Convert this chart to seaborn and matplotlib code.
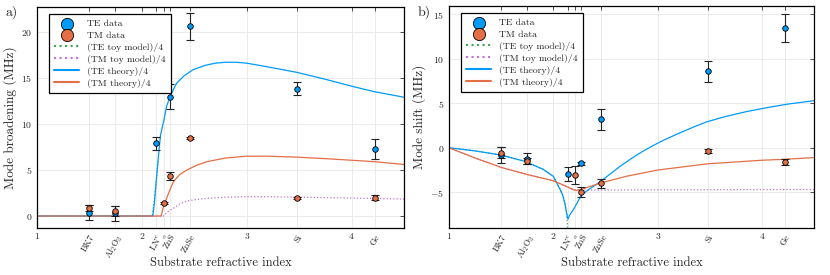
import numpy as np
import pandas as pd
import matplotlib
matplotlib.use('Agg')
import matplotlib.pyplot as plt
import seaborn as sns

sns.set_style('white')
plt.rcParams['font.family'] = ['cmr10', 'DejaVu Serif']
plt.rcParams['mathtext.fontset'] = 'cm'
plt.rcParams['axes.formatter.use_mathtext'] = True

blue, orange, green, purple = '#009AFA', '#E36F47', '#3EA44E', '#C271D2'

# substrate indices
n_te = [1.50, 1.746, 2.138, 2.27, 2.46, 3.48, 4.22]
n_tm = [1.50, 1.746, 2.211, 2.27, 2.46, 3.48, 4.22]
tick_pos = [1, 1.50, 1.746, 2, 2.138, 2.211, 2.27, 2.46, 3, 3.48, 4, 4.22]
tick_lbl = ['1', 'BK7', 'Al$_2$O$_3$', '2', 'LN$^e$', '$^o$', 'ZnS', 'ZnSe',
            '3', 'Si', '4', 'Ge']

# (a) broadening data
br_te = [0.36, 0.3, 7.9, 12.97, 20.6, 13.84, 7.3]
br_te_err = [0.8, 0.8, 0.7, 1.35, 1.5, 0.7, 1.1]
br_tm = [0.87, 0.55, 1.4, 4.38, 8.48, 1.92, 2.0]
br_tm_err = [0.3, 0.5, 0.1, 0.45, 0.1, 0.1, 0.3]

# (b) shift data
sh_te = [-0.82, -1.23, -2.95, -1.75, 3.17, 8.59, 13.44]
sh_te_err = [0.9, 0.6, 0.77, 0.15, 1.2, 1.17, 1.6]
sh_tm = [-0.56, -1.49, -3.06, -4.96, -3.99, -0.37, -1.6]
sh_tm_err = [0.6, 0.3, 1.0, 0.55, 0.5, 0.25, 0.35]

# curves: (n, value)
br_te_th_n = [1, 2.105, 2.12, 2.133, 2.155, 2.178, 2.21, 2.235, 2.27, 2.33, 2.40, 2.49,
              2.6, 2.7, 2.8, 2.9, 3.0, 3.2, 3.48, 3.75, 4.0, 4.22, 4.5]
br_te_th = [0, 0, 1.5, 3.2, 6.1, 8.8, 10.4, 11.9, 13.0, 14.4, 15.2, 15.9,
            16.35, 16.6, 16.7, 16.7, 16.6, 16.2, 15.6, 14.85, 14.1, 13.5, 12.9]
br_te_toy_n = [1, 2.098, 2.12, 2.135, 2.155]
br_te_toy = [0, 0, 1.8, 3.6, 6.1]
br_tm_th_n = [1, 2.185, 2.20, 2.235, 2.27, 2.30, 2.36, 2.43, 2.52, 2.62, 2.8, 3.0,
              3.2, 3.47, 3.8, 4.22, 4.5]
br_tm_th = [0, 0, 0.8, 1.9, 2.9, 3.7, 4.5, 5.0, 5.5, 5.9, 6.3, 6.5,
            6.5, 6.4, 6.2, 5.9, 5.6]
br_tm_toy_n = [1, 2.205, 2.25, 2.30, 2.36, 2.43, 2.52, 2.62, 2.8, 3.0, 3.2, 3.47, 4.0, 4.5]
br_tm_toy = [0, 0, 0.5, 0.83, 1.3, 1.63, 1.8, 1.92, 2.05, 2.1, 2.1, 2.05, 1.95, 1.85]

sh_te_th_n = [1, 1.25, 1.5, 1.72, 1.9, 2.0, 2.06, 2.09, 2.11, 2.123, 2.14, 2.16, 2.20,
              2.27, 2.35, 2.44, 2.55, 2.65, 2.75, 2.85, 2.95, 3.05, 3.2, 3.35, 3.47,
              3.65, 3.85, 4.05, 4.25, 4.5]
sh_te_th = [0, -0.35, -0.82, -1.5, -2.4, -3.2, -4.55, -5.3, -6.2, -7.0, -8.0, -7.5, -6.8,
            -5.3, -4.6, -3.9, -2.9, -2.0, -1.2, -0.45, 0.2, 0.8, 1.6, 2.35, 2.9,
            3.5, 4.05, 4.5, 4.9, 5.28]
sh_te_toy_n = [1, 1.25, 1.5, 1.72, 1.9, 2.0, 2.06, 2.09, 2.11, 2.123, 2.132, 2.14]
sh_te_toy = [0, -0.35, -0.82, -1.5, -2.4, -3.2, -4.55, -5.3, -6.2, -7.0, -8.0, -9.5]
sh_tm_th_n = [1, 1.25, 1.5, 1.75, 2.0, 2.1, 2.2, 2.22, 2.3, 2.44, 2.7, 3.0, 3.48, 4.0, 4.21, 4.5]
sh_tm_th = [0, -1.15, -2.2, -3.0, -3.7, -4.2, -4.74, -4.8, -4.55, -4.0, -3.2, -2.5,
            -1.8, -1.4, -1.3, -1.1]
sh_tm_toy_n = [1, 1.25, 1.5, 1.75, 2.0, 2.1, 2.2, 2.23, 3.0, 4.5]
sh_tm_toy = [0, -1.15, -2.2, -3.0, -3.7, -4.2, -4.7, -4.75, -4.72, -4.68]

fig = plt.figure(figsize=(8.3, 2.75), dpi=100)
ax_a = fig.add_axes([37/830, 47/275, 367/830, 221/275])
ax_b = fig.add_axes([449/830, 47/275, 365/830, 222/275])


def panel(ax, te, te_err, tm, tm_err, curves, ylim, yticks, ylabel):
    for (xs, ys, col, ls, lab) in curves:
        sns.lineplot(x=xs, y=ys, ax=ax, color=col, linestyle=ls, lw=0.9,
                     sort=False, estimator=None, label=lab, legend=False)
    ax.errorbar(n_te, te, yerr=te_err, fmt='none', ecolor='#222222',
                elinewidth=0.8, capsize=3, capthick=0.8, zorder=4)
    ax.errorbar(n_tm, tm, yerr=tm_err, fmt='none', ecolor='#222222',
                elinewidth=0.8, capsize=3, capthick=0.8, zorder=4)
    sns.scatterplot(x=n_te, y=te, ax=ax, color=blue, edgecolor='black',
                    linewidth=0.6, s=16, zorder=5, label='TE data', legend=False)
    sns.scatterplot(x=n_tm, y=tm, ax=ax, color=orange, edgecolor='black',
                    linewidth=0.6, s=16, zorder=5, label='TM data', legend=False)
    ax.set_xlim(1, 4.5)
    ax.set_ylim(*ylim)
    ax.set_yticks(yticks)
    ax.set_xticks(tick_pos)
    ax.set_xticklabels(tick_lbl)
    for t, lab in zip(ax.get_xticklabels(), tick_lbl):
        t.set_fontsize(7)
        if lab not in ('1', '2', '3', '4'):
            t.set_fontsize(6.5)
            t.set_rotation(60)
            t.set_ha('right')
            t.set_rotation_mode('anchor')
    ax.tick_params(axis='y', labelsize=7)
    ax.tick_params(direction='in', length=3, width=0.6, top=True, right=True,
                   color='#333333', pad=3.5)
    ax.grid(True, color='#e8e8e8', lw=0.6)
    ax.set_axisbelow(True)
    for s in ax.spines.values():
        s.set_color('black')
        s.set_linewidth(0.9)
    ax.set_xlabel('Substrate refractive index', fontsize=9)
    ax.xaxis.set_label_coords(0.5, -0.13)
    ax.set_ylabel(ylabel, fontsize=9.5, labelpad=3)
    h, l = ax.get_legend_handles_labels()
    order = ['TE data', 'TM data', '(TE toy model)/4', '(TM toy model)/4',
             '(TE theory)/4', '(TM theory)/4']
    hd = dict(zip(l, h))
    leg = ax.legend([hd[o] for o in order], order, loc='upper left',
                    bbox_to_anchor=(0.032, 0.968), borderaxespad=0, fontsize=7,
                    frameon=True, fancybox=False, edgecolor='black',
                    labelspacing=0.3, handlelength=2.6, markerscale=2.2,
                    borderpad=0.55)
    leg.get_frame().set_linewidth(0.9)
    leg.get_frame().set_alpha(1)
    for line in leg.get_lines():
        line.set_linewidth(1.5)


curves_a = [(br_te_toy_n, br_te_toy, green, ':', '(TE toy model)/4'),
            (br_tm_toy_n, br_tm_toy, purple, ':', '(TM toy model)/4'),
            (br_te_th_n, br_te_th, blue, '-', '(TE theory)/4'),
            (br_tm_th_n, br_tm_th, orange, '-', '(TM theory)/4')]
curves_b = [(sh_te_toy_n, sh_te_toy, green, ':', '(TE toy model)/4'),
            (sh_tm_toy_n, sh_tm_toy, purple, ':', '(TM toy model)/4'),
            (sh_te_th_n, sh_te_th, blue, '-', '(TE theory)/4'),
            (sh_tm_th_n, sh_tm_th, orange, '-', '(TM theory)/4')]

panel(ax_a, br_te, br_te_err, br_tm, br_tm_err, curves_a, (-1.3, 22.7),
      [0, 5, 10, 15, 20], 'Mode broadening (MHz)')
panel(ax_b, sh_te, sh_te_err, sh_tm, sh_tm_err, curves_b, (-9.0, 15.9),
      [-5, 0, 5, 10, 15], 'Mode shift (MHz)')

fig.text(5/830, 1 - 12/275, 'a)', fontsize=10, va='center')
fig.text(418/830, 1 - 12/275, 'b)', fontsize=10, va='center')

fig.savefig('out.png', dpi=100)
